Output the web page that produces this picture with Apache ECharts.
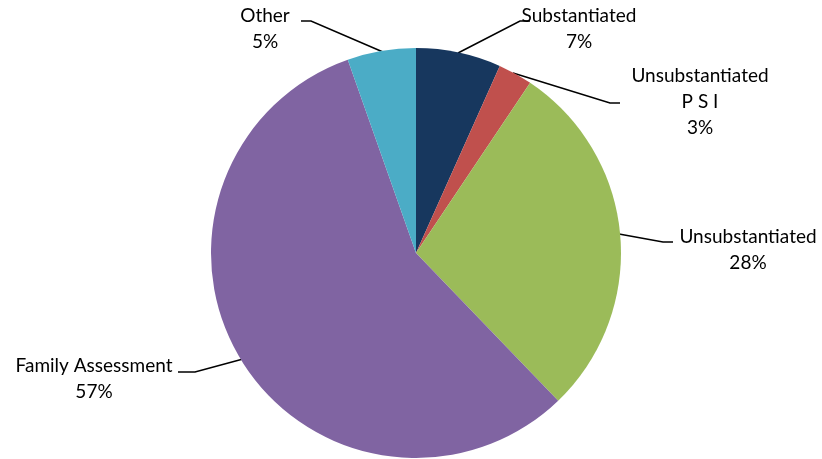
<!DOCTYPE html>
<html>
<head>
<meta charset="utf-8">
<script src="https://cdn.jsdelivr.net/npm/echarts@6/dist/echarts.min.js"></script>
<style>html,body{margin:0;padding:0;background:#fff;}#c{width:822px;height:459px;}</style>
</head>
<body>
<div id="c"></div>
<script>
const categories = ['Substantiated', 'Unsubstantiated\nP S I', 'Unsubstantiated', 'Family Assessment', 'Other'];
const values = [6.7, 2.7, 28.4, 56.8, 5.4];
const colors = ['#17375E', '#C0504D', '#9BBB59', '#8064A2', '#4BACC6'];

// label placement (text anchor and leader line) per slice
const labelPos = [
  { x: 579, y: 29, line: [[458, 53], [520, 21], [530, 21]] },
  { x: 700, y: 102, line: [[513, 73], [610, 103], [620, 103]] },
  { x: 748, y: 250, line: [[619, 234], [663, 242], [673, 242]] },
  { x: 94, y: 379, line: [[243, 359], [195, 372], [178, 372]] },
  { x: 265, y: 29, line: [[383, 52], [311, 21], [301, 21]] }
];

const chart = echarts.init(document.getElementById('c'), null, { renderer: 'canvas' });
chart.setOption({
  animation: false,
  color: colors,
  series: [{
    type: 'pie',
    center: [416, 253],
    radius: 205,
    startAngle: 90,
    clockwise: true,
    percentPrecision: 0,
    data: categories.map((n, i) => ({ name: n, value: values[i] })),
    itemStyle: { borderWidth: 0 },
    label: {
      show: true,
      formatter: '{b}\n{d}%',
      fontFamily: 'Lato, "Open Sans", sans-serif',
      fontSize: 19,
      lineHeight: 26,
      color: '#000',
      align: 'center'
    },
    labelLine: { show: true, lineStyle: { color: '#000', width: 1.5 } },
    labelLayout: function (p) {
      const lp = labelPos[p.dataIndex];
      return {
        x: lp.x, y: lp.y, align: 'center', verticalAlign: 'middle',
        labelLinePoints: lp.line
      };
    }
  }]
});
</script>
</body>
</html>
